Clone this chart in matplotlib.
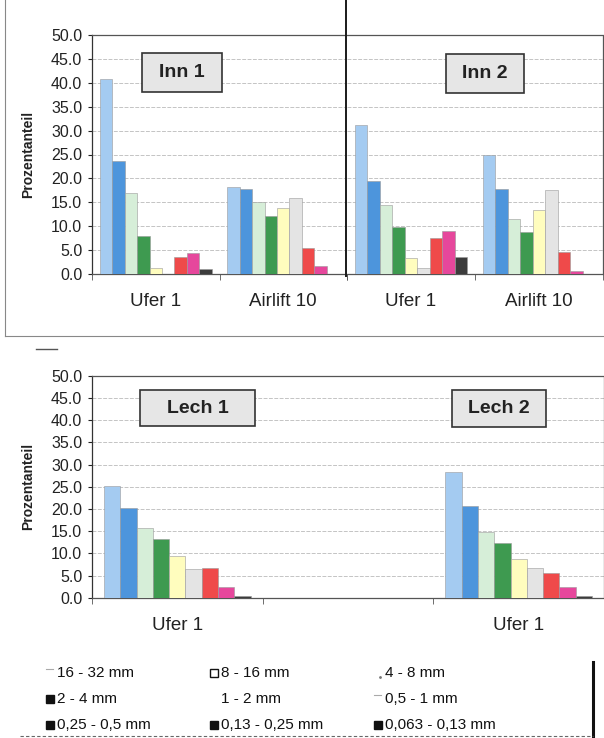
import numpy as np
import matplotlib
matplotlib.use("Agg")
import matplotlib.pyplot as plt
from matplotlib.patches import Rectangle

plt.rcParams['font.family'] = ['Liberation Sans', 'DejaVu Sans']

# =========================
# DATA
# =========================
fractions = ["16 - 32 mm", "8 - 16 mm", "4 - 8 mm",
             "2 - 4 mm", "1 - 2 mm", "0,5 - 1 mm",
             "0,25 - 0,5 mm", "0,13 - 0,25 mm", "0,063 - 0,13 mm"]
colors = ["#a4cbf1", "#4d95dc", "#d6eed8", "#3e9a50", "#fffdbe",
          "#e4e4e4", "#ef4a4a", "#e6479c", "#3c3c3c"]

inn_sites = ["Ufer 1", "Airlift 10"]
inn1_ufer1 = [40.8, 23.6, 17.0, 8.0, 1.3, 0.0, 3.6, 4.4, 1.0]
inn1_airlift10 = [18.1, 17.8, 15.0, 12.2, 13.9, 15.8, 5.5, 1.7, 0.1]
inn2_ufer1 = [31.2, 19.5, 14.4, 9.8, 3.4, 1.3, 7.6, 8.9, 3.5]
inn2_airlift10 = [25.0, 17.8, 11.6, 8.8, 13.4, 17.6, 4.6, 0.7, 0.1]

lech_sites = ["Ufer 1", "", "Ufer 1"]
lech1_ufer1 = [25.2, 20.2, 15.8, 13.3, 9.4, 6.5, 6.7, 2.5, 0.45]
lech2_ufer1 = [28.2, 20.6, 14.7, 12.3, 8.7, 6.8, 5.6, 2.4, 0.45]

# =========================
# LAYOUT (pixel based)
# =========================
W, H = 604, 738
fig = plt.figure(figsize=(W / 100, H / 100), dpi=100)


def px_axes(x0, y0, x1, y1):
    return fig.add_axes([x0 / W, 1 - y1 / H, (x1 - x0) / W, (y1 - y0) / H])


ax1 = px_axes(92, 35, 347, 274)
ax2 = px_axes(347, 35, 603, 274)
ax3 = px_axes(92, 375.7, 604, 597.7)


def draw_groups(ax, positions, groups, total=0.88):
    n = len(colors)
    bw = total / n
    for i in range(n):
        xs = [p - total / 2 + bw * (i + 0.5) for p in positions]
        hs = [g[i] for g in groups]
        ax.bar(xs, hs, width=bw, color=colors[i], edgecolor="#9a9a9a",
               linewidth=0.4, zorder=3)


def style(ax, labels, show_y=True):
    ncat = len(labels)
    ax.set_xlim(-0.5, ncat - 0.5)
    ax.set_ylim(0, 50)
    for y in np.arange(5, 50, 5):
        ax.axhline(y, color="#c4c4c4", lw=0.7, ls=(0, (4, 1.5)), zorder=0)
    ax.set_yticks(np.arange(0, 51, 5))
    ax.set_yticklabels([f"{v:.1f}" for v in np.arange(0, 51, 5)])
    ax.tick_params(axis="y", length=3, pad=4, labelsize=11.5,
                   colors="#222222", direction="out")
    ax.set_xticks(range(ncat))
    ax.set_xticklabels(labels)
    ax.set_xticks(np.arange(-0.5, ncat, 1), minor=True)
    ax.tick_params(axis="x", which="major", length=0, pad=14,
                   labelsize=13.5, colors="#222222")
    ax.tick_params(axis="x", which="minor", length=4, color="#555555")
    for s in ["top", "right", "bottom"]:
        ax.spines[s].set_linestyle((0, (2, 1)))
        ax.spines[s].set_color("#555555")
        ax.spines[s].set_linewidth(0.9)
    ax.spines["left"].set_color("#333333")
    ax.spines["left"].set_linewidth(0.9)
    if not show_y:
        ax.tick_params(axis="y", length=0, labelleft=False)


def title_box(ax, cx, cy, w, h, text):
    bb = ax.get_position()
    wf = w / (bb.width * W)
    hf = h / (bb.height * H)
    ax.add_patch(Rectangle((cx - wf / 2, cy - hf / 2), wf, hf,
                           transform=ax.transAxes, facecolor="#e6e6e6",
                           edgecolor="#333333", lw=1.2, zorder=5))
    ax.text(cx, cy, text, transform=ax.transAxes, ha="center", va="center",
            fontsize=14, fontweight="bold", color="#222222", zorder=6)


# =========================
# INN 1 / INN 2
# =========================
draw_groups(ax1, [0, 1], [inn1_ufer1, inn1_airlift10])
style(ax1, inn_sites)
ax1.spines["right"].set_visible(False)
title_box(ax1, 0.353, 0.845, 80, 39, "Inn 1")
ax1.set_ylabel("Prozentanteil", fontsize=10, fontweight="bold", color="#222222")
ax1.yaxis.set_label_coords(-0.224, 0.5)

draw_groups(ax2, [0, 1], [inn2_ufer1, inn2_airlift10])
style(ax2, inn_sites, show_y=False)
ax2.spines["left"].set_visible(False)
title_box(ax2, 0.539, 0.839, 78, 39, "Inn 2")

# =========================
# LECH 1 / LECH 2
# =========================
draw_groups(ax3, [0, 2], [lech1_ufer1, lech2_ufer1], total=0.86)
style(ax3, lech_sites)
title_box(ax3, 0.206, 0.854, 115, 36, "Lech 1")
title_box(ax3, 0.795, 0.854, 94, 37, "Lech 2")
ax3.set_ylabel("Prozentanteil", fontsize=10, fontweight="bold", color="#222222")
ax3.yaxis.set_label_coords(-0.111, 0.5)

# =========================
# FRAME LINES + LEGEND (overlay in pixels)
# =========================
ov = fig.add_axes([0, 0, 1, 1], facecolor="none")
ov.set_xlim(0, W)
ov.set_ylim(H, 0)
ov.axis("off")

ov.plot([346, 346], [0, 276], color="#1a1a1a", lw=1.4)
ov.plot([5, 5], [0, 336], color="#888888", lw=0.8)
ov.plot([5, 604], [336, 336], color="#888888", lw=0.8)
ov.plot([36, 57], [349, 349], color="#555555", lw=1.0)
ov.plot([593, 593], [662, 738], color="#111111", lw=2.2)
ov.plot([20, 593], [736, 736], color="#666666", lw=0.8, ls=(0, (3, 2)))

legend_marks = ["dash", "hollow", "dot", "square", "none",
                "dash", "square", "square", "square"]
col_x = [50, 214, 378]
row_y = [673, 699, 725]
for k, name in enumerate(fractions):
    x = col_x[k % 3]
    y = row_y[k // 3]
    m = legend_marks[k]
    if m == "square":
        ov.plot(x, y, marker="s", ms=6, color="#111111")
    elif m == "hollow":
        ov.plot(x, y, marker="s", ms=6, mfc="white", mec="#111111", mew=1.0)
    elif m == "dash":
        ov.plot([x - 4, x + 3], [y - 4, y - 4], color="#aaaaaa", lw=0.8)
    elif m == "dot":
        ov.plot(x + 2, y + 4, marker=".", ms=2, color="#777777")
    ov.text(x + 7, y, name, fontsize=11, va="center", ha="left",
            color="#111111")

fig.savefig("out.png", dpi=100)
